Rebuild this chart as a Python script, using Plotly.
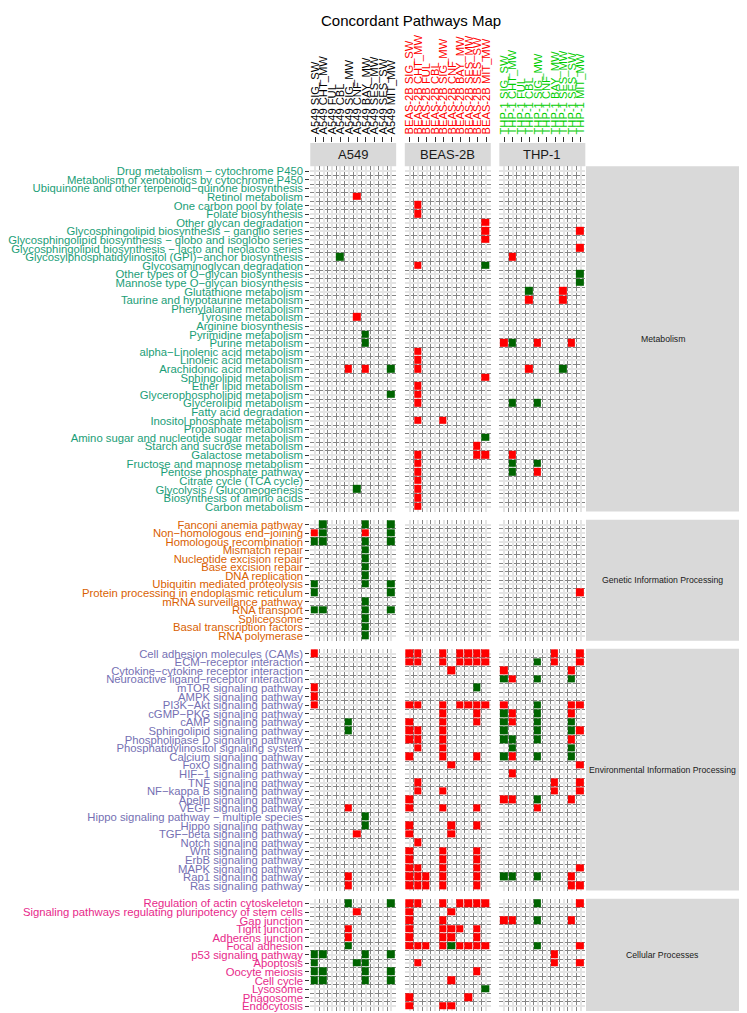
import plotly.graph_objects as go

# The page places the figure 8 px from the top-left corner (default body margin)
OFF = 8
W, H = 747 - OFF, 1013 - OFF

# ---------------- data ----------------
A549_COLS = ["A549 SIG_SW", "A549 CHT_MW", "A549 FUL", "A549 CBL", "A549 SIG_MW",
             "A549 CNF", "A549 BAY_MW", "A549 SES_MW", "A549 SES_SW", "A549 MIT_MW"]
BEAS_COLS = ["BEAS-2B SIG_SW", "BEAS-2B CHT_MW", "BEAS-2B FUL", "BEAS-2B CBL", "BEAS-2B SIG_MW",
             "BEAS-2B CNF", "BEAS-2B BAY_MW", "BEAS-2B SES_MW", "BEAS-2B SES_SW", "BEAS-2B MIT_MW"]
THP_COLS = ["THP-1 SIG_SW", "THP-1 CHT_MW", "THP-1 FUL", "THP-1 CBL", "THP-1 SIG_MW",
            "THP-1 CNF", "THP-1 BAY_MW", "THP-1 SES_MW", "THP-1 SES_SW", "THP-1 MIT_MW"]
CELL_LINES = ["A549", "BEAS-2B", "THP-1"]
CELL_LINE_COLORS = ["#000000", "#FF0000", "#00CD00"]

GROUPS = ["Metabolism", "Genetic Information Processing",
          "Environmental Information Processing", "Cellular Processes"]
GROUP_COLORS = ["#1B9E77", "#D95F02", "#7570B3", "#E7298A"]

MET_PATHWAYS = [
    "Drug metabolism − cytochrome P450", "Metabolism of xenobiotics by cytochrome P450",
    "Ubiquinone and other terpenoid−quinone biosynthesis", "Retinol metabolism",
    "One carbon pool by folate", "Folate biosynthesis", "Other glycan degradation",
    "Glycosphingolipid biosynthesis − ganglio series",
    "Glycosphingolipid biosynthesis − globo and isoglobo series",
    "Glycosphingolipid biosynthesis − lacto and neolacto series",
    "Glycosylphosphatidylinositol (GPI)−anchor biosynthesis", "Glycosaminoglycan degradation",
    "Other types of O−glycan biosynthesis", "Mannose type O−glycan biosynthesis",
    "Glutathione metabolism", "Taurine and hypotaurine metabolism", "Phenylalanine metabolism",
    "Tyrosine metabolism", "Arginine biosynthesis", "Pyrimidine metabolism", "Purine metabolism",
    "alpha−Linolenic acid metabolism", "Linoleic acid metabolism", "Arachidonic acid metabolism",
    "Sphingolipid metabolism", "Ether lipid metabolism", "Glycerophospholipid metabolism",
    "Glycerolipid metabolism", "Fatty acid degradation", "Inositol phosphate metabolism",
    "Propanoate metabolism", "Amino sugar and nucleotide sugar metabolism",
    "Starch and sucrose metabolism", "Galactose metabolism", "Fructose and mannose metabolism",
    "Pentose phosphate pathway", "Citrate cycle (TCA cycle)", "Glycolysis / Gluconeogenesis",
    "Biosynthesis of amino acids", "Carbon metabolism"]
GEN_PATHWAYS = [
    "Fanconi anemia pathway", "Non−homologous end−joining", "Homologous recombination",
    "Mismatch repair", "Nucleotide excision repair", "Base excision repair", "DNA replication",
    "Ubiquitin mediated proteolysis", "Protein processing in endoplasmic reticulum",
    "mRNA surveillance pathway", "RNA transport", "Spliceosome", "Basal transcription factors",
    "RNA polymerase"]
ENV_PATHWAYS = [
    "Cell adhesion molecules (CAMs)", "ECM−receptor interaction",
    "Cytokine−cytokine receptor interaction", "Neuroactive ligand−receptor interaction",
    "mTOR signaling pathway", "AMPK signaling pathway", "PI3K−Akt signaling pathway",
    "cGMP−PKG signaling pathway", "cAMP signaling pathway", "Sphingolipid signaling pathway",
    "Phospholipase D signaling pathway", "Phosphatidylinositol signaling system",
    "Calcium signaling pathway", "FoxO signaling pathway", "HIF−1 signaling pathway",
    "TNF signaling pathway", "NF−kappa B signaling pathway", "Apelin signaling pathway",
    "VEGF signaling pathway", "Hippo signaling pathway − multiple species",
    "Hippo signaling pathway", "TGF−beta signaling pathway", "Notch signaling pathway",
    "Wnt signaling pathway", "ErbB signaling pathway", "MAPK signaling pathway",
    "Rap1 signaling pathway", "Ras signaling pathway"]
CEL_PATHWAYS = [
    "Regulation of actin cytoskeleton", "Signaling pathways regulating pluripotency of stem cells",
    "Gap junction", "Tight junction", "Adherens junction", "Focal adhesion",
    "p53 signaling pathway", "Apoptosis", "Oocyte meiosis", "Cell cycle", "Lysosome",
    "Phagosome", "Endocytosis"]

# R = concordant red, G = concordant green, . = none (one string per pathway, one char per sample)
MET_A549 = [
    "..........", "..........", "..........", ".....R....", "..........", "..........",
    "..........", "..........", "..........", "..........", "...G......", "..........",
    "..........", "..........", "..........", "..........", "..........", ".....R....",
    "..........", "......G...", "......G...", "..........", "..........", "....R.R..G",
    "..........", "..........", ".........G", "..........", "..........", "..........",
    "..........", "..........", "..........", "..........", "..........", "..........",
    "..........", ".....G....", "..........", ".........."]
MET_BEAS = [
    "..........", "..........", "..........", "..........", ".R........", ".R........",
    ".........R", ".........R", ".........R", "..........", "..........", ".R.......G",
    "..........", "..........", "..........", "..........", "..........", "..........",
    "..........", "..........", "..........", ".R........", ".R........", ".R........",
    ".........R", ".R........", ".R........", ".R........", "..........", ".R..R.....",
    "..........", ".........G", "........R.", ".R......RR", ".R........", ".R........",
    ".R........", ".R........", ".R........", ".R........"]
MET_THP = [
    "..........", "..........", "..........", "..........", "..........", "..........",
    "..........", ".........R", "..........", ".........R", ".R........", "..........",
    ".........G", ".........G", "...G...R..", "...R...R..", "..........", "..........",
    "..........", "..........", "RG..R...R.", "..........", "..........", "...R...G..",
    "..........", "..........", "..........", ".G..G.....", "..........", "..........",
    "..........", "..........", "..........", ".R........", ".G..G.....", ".G..R.....",
    "..........", "..........", "..........", ".........."]

GEN_A549 = [
    ".G....G..G", "RG....R..G", "GG....G..G", "......G...", "......G...", "......G...",
    "......G...", "G.....G..G", "G........G", "......G...", "GG....G..G", "......G...",
    "......G...", "......G..."]
GEN_BEAS = [".........."] * 14
GEN_THP = [
    "..........", "..........", "..........", "..........", "..........", "..........",
    "..........", "..........", ".........R", "..........", "..........", "..........",
    "..........", ".........."]

ENV_A549 = [
    "R.........", "..........", "..........", "..........", "R.........", "R.........",
    "R.........", "..........", "....G.....", "....G.....", "..........", "..........",
    "..........", "..........", "..........", "..........", "..........", "..........",
    "....R.....", "......G...", "......G...", ".....R....", "..........", "..........",
    "..........", "..........", "....R.....", "....R....."]
ENV_BEAS = [
    "RR..R.RRRR", "RR..R.RRRR", ".....R....", "..........", "........G.", "..........",
    "RR..R.RRRR", "....R...R.", "R...R...R.", "RR..R.....", "RR..R.....", ".R..R.....",
    "R...R...R.", ".....R....", "..........", ".R........", ".R..R.....", "R.........",
    "R...R...R.", "..........", "R....R..R.", "R....R....", ".R........", "R...R...R.",
    "R...R...R.", "RR..R...R.", "RRR.R...R.", "RRR.R...R."]
ENV_THP = [
    "......R..R", "....G.R..R", "R.......R.", "GR..G...G.", "..........", "..........",
    "R...G...RR", "GR..G...R.", "GR..G...G.", "G...G...GR", "GG..G...R.", ".G......G.",
    "GR..G...G.", ".........R", ".R........", "......R..R", "......R..R", "RR..G...R.",
    "....R.....", "..........", "..........", "..........", "..........", "..........",
    "..........", ".........R", "GG..G...R.", "........RR"]

CEL_A549 = [
    "....G....G", ".....R....", "..........", "....R.....", "....R.....", "....G.....",
    "GG....G..G", "G....GG...", "GG....G..G", "GG....G..G", "..........", "..........",
    ".........."]
CEL_BEAS = [
    "RR..R.RRRR", "R....R....", "R...R.....", "R...RRR.R.", "R...RR..R.", "RRR.RGRRRR",
    "..........", ".R........", "........R.", ".....R....", ".........G", "R......R..",
    "R...RR...."]
CEL_THP = [
    "....G....R", "..........", "RR..G...R.", "..........", "..........", "....G....R",
    "......R...", "......R..R", "..........", "..........", "..........", "..........",
    ".........."]

# ---------------- layout geometry (window pixels) ----------------
COL_X = [(307.7, 394.3), (403.0, 489.7), (498.3, 585.0)]
ROW_Y = [(165.6, 511.6), (519.8, 640.9), (649.1, 891.3), (899.5, 1012.0)]
AXIS_Y = 141.0
STRIP_TOP = (142.3, 165.6)
RIGHT_STRIP_X = (585.7, 747.0)

FONT = "Liberation Sans, Arial, Helvetica, sans-serif"

pathway_groups = [MET_PATHWAYS, GEN_PATHWAYS, ENV_PATHWAYS, CEL_PATHWAYS]
grid = [[MET_A549, MET_BEAS, MET_THP], [GEN_A549, GEN_BEAS, GEN_THP],
        [ENV_A549, ENV_BEAS, ENV_THP], [CEL_A549, CEL_BEAS, CEL_THP]]
col_labels = [A549_COLS, BEAS_COLS, THP_COLS]

CODE = {"R": 1, "G": 2, ".": None}


def px_x(v):
    return (v - OFF) / W


def px_y(v):
    return 1 - (v - OFF) / H


fig = go.Figure()
layout = dict(width=W, height=H, margin=dict(l=0, r=0, t=0, b=0, pad=0), autosize=False,
              paper_bgcolor="white", plot_bgcolor="white", showlegend=False,
              font=dict(family=FONT, color="#1A1A1A"))
shapes, annotations = [], []

k = 0
for gi, paths in enumerate(pathway_groups):
    n = len(paths)
    for ci in range(3):
        k += 1
        sfx = "" if k == 1 else str(k)
        rows = grid[gi][ci]
        z = [[CODE[ch] for ch in r] for r in rows]
        ncol = len(col_labels[ci])
        fig.add_trace(go.Heatmap(
            z=z, x=list(range(ncol)), y=list(range(n)),
            xaxis="x" + sfx, yaxis="y" + sfx,
            colorscale=[[0, "#FF0000"], [0.5, "#FF0000"], [0.5, "#006400"], [1, "#006400"]],
            zmin=1, zmax=2, showscale=False, xgap=1, ygap=1, hoverinfo="skip"))

        xa = dict(domain=[px_x(COL_X[ci][0]), px_x(COL_X[ci][1])],
                  range=[-0.56, ncol - 0.44], anchor="y" + sfx,
                  showgrid=True, gridcolor="#E4E4E4", gridwidth=1.5, zeroline=False,
                  showline=False, tickmode="array", tickvals=list(range(ncol)),
                  minor=dict(tickmode="array", tickvals=[i - 0.5 for i in range(ncol + 1)],
                             showgrid=True, gridcolor="#858585", gridwidth=1, ticks=""),
                  fixedrange=True)
        if gi == 0:
            xa.update(side="top", anchor="free", position=px_y(AXIS_Y),
                      ticktext=col_labels[ci], tickangle=-90, ticks="outside", ticklen=5,
                      tickwidth=1, tickcolor="#333333",
                      tickfont=dict(size=11.2, color=CELL_LINE_COLORS[ci], family=FONT))
        else:
            xa.update(showticklabels=False, ticks="")
        ya = dict(domain=[px_y(ROW_Y[gi][1]), px_y(ROW_Y[gi][0])],
                  range=[n - 0.44, -0.56], anchor="x" + sfx,
                  showgrid=True, gridcolor="#E4E4E4", gridwidth=1.5, zeroline=False,
                  showline=False, tickmode="array", tickvals=list(range(n)),
                  minor=dict(tickmode="array", tickvals=[i - 0.5 for i in range(n + 1)],
                             showgrid=True, gridcolor="#858585", gridwidth=1, ticks=""),
                  fixedrange=True)
        if ci == 0:
            ya.update(ticktext=paths, ticks="outside", ticklen=4, tickwidth=1,
                      tickcolor="#333333",
                      tickfont=dict(size=11.3, color=GROUP_COLORS[gi], family=FONT))
        else:
            ya.update(showticklabels=False, ticks="")
        layout["xaxis" + sfx] = xa
        layout["yaxis" + sfx] = ya

# top strips
for ci, name in enumerate(CELL_LINES):
    shapes.append(dict(type="rect", xref="paper", yref="paper",
                       x0=px_x(COL_X[ci][0]), x1=px_x(COL_X[ci][1]),
                       y0=px_y(STRIP_TOP[1]), y1=px_y(STRIP_TOP[0]),
                       fillcolor="#D9D9D9", line=dict(width=0), layer="below"))
    annotations.append(dict(xref="paper", yref="paper", showarrow=False,
                            x=px_x(sum(COL_X[ci]) / 2), y=px_y(sum(STRIP_TOP) / 2),
                            text=name, font=dict(size=13, color="#1A1A1A", family=FONT),
                            xanchor="center", yanchor="middle"))
# right strips
for gi, name in enumerate(GROUPS):
    shapes.append(dict(type="rect", xref="paper", yref="paper",
                       x0=px_x(RIGHT_STRIP_X[0]), x1=px_x(RIGHT_STRIP_X[1]),
                       y0=px_y(ROW_Y[gi][1]), y1=px_y(ROW_Y[gi][0]),
                       fillcolor="#D9D9D9", line=dict(width=0), layer="below"))
    annotations.append(dict(xref="paper", yref="paper", showarrow=False,
                            x=px_x(663), y=px_y(sum(ROW_Y[gi]) / 2),
                            text=name, font=dict(size=8.7, color="#1A1A1A", family=FONT),
                            xanchor="center", yanchor="middle"))
# title
annotations.append(dict(xref="paper", yref="paper", showarrow=False,
                        x=px_x(409), y=px_y(9), text="Concordant Pathways Map",
                        font=dict(size=15, color="#000000", family=FONT),
                        xanchor="center", yanchor="top"))

layout["shapes"] = shapes
layout["annotations"] = annotations
fig.update_layout(**layout)
fig.write_html("out.html")
